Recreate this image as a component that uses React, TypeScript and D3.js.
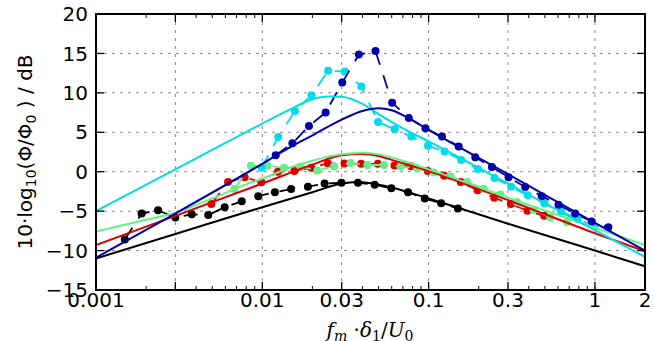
import { useEffect, useRef } from 'react'
import * as d3 from 'd3'

// ── chart data ────────────────────────────────────────────────────────
const X_TICKS = [0.001, 0.003, 0.01, 0.03, 0.1, 0.3, 1, 2]
const X_TICK_LABELS = ['0.001', '', '0.01', '0.03', '0.1', '0.3', '1', '2']
const X_MINOR = [0.002, 0.004, 0.005, 0.006, 0.007, 0.008, 0.009, 0.02, 0.04, 0.05, 0.06, 0.07, 0.08, 0.09, 0.2, 0.4, 0.5, 0.6, 0.7, 0.8, 0.9]
const X_GRID = [0.003, 0.01, 0.03, 0.1, 0.3, 1]
const Y_TICKS = [-15, -10, -5, 0, 5, 10, 15, 20]
const Y_GRID = [-10, -5, 0, 5, 10, 15]

const SERIES_COLORS = ['#000000', '#dd0000', '#66ee88', '#00dde8', '#0000aa']

// measured spectra (markers)
const blackF = [0.00149, 0.00188, 0.00236, 0.003, 0.00376, 0.00473, 0.00594, 0.00752, 0.00946, 0.0119, 0.0149, 0.0188, 0.0237, 0.0299, 0.0376, 0.0474, 0.0597, 0.0752, 0.0948, 0.119, 0.15]
const blackDb = [-8.6, -5.3, -4.9, -5.8, -5.4, -5.5, -4.5, -3.75, -3.1, -2.6, -2.2, -1.9, -1.5, -1.4, -1.4, -1.65, -2.1, -2.6, -3.4, -4.0, -4.65]
const redF = [0.00494, 0.00622, 0.00783, 0.00986, 0.0124, 0.0156, 0.0197, 0.0248, 0.0312, 0.0393, 0.0495, 0.0623, 0.0784, 0.0987, 0.124, 0.156, 0.197, 0.248, 0.312, 0.393, 0.495]
const redDb = [-4.1, -1.3, -0.7, -1.35, 0.0, 0.1, 0.5, 1.05, 1.05, 1.0, 1.0, 0.8, 0.7, 0.1, -0.5, -1.3, -2.35, -3.3, -4.1, -4.95, -5.6]
const greenF = [0.00679, 0.00854, 0.01075, 0.01354, 0.01704, 0.02145, 0.02701, 0.034, 0.0428, 0.0539, 0.0679, 0.0854, 0.1075, 0.1354, 0.1704, 0.2145, 0.2701, 0.34, 0.428, 0.539, 0.679]
const greenDb = [-2.2, 0.75, 0.75, 0.5, 0.65, 0.15, 0.7, 1.1, 0.85, 0.85, 0.65, 0.45, -0.1, -0.6, -1.3, -2.15, -2.9, -3.85, -4.85, -5.8, -6.4]
const cyanF = [0.0099, 0.01247, 0.0157, 0.01976, 0.02488, 0.03132, 0.03943, 0.04964, 0.0625, 0.0787, 0.0991, 0.1247, 0.157, 0.1977, 0.2489, 0.3133, 0.3944, 0.4966, 0.625, 0.787, 0.991]
const cyanDb = [0.5, 4.4, 7.7, 9.7, 12.8, 12.7, 10.8, 6.3, 5.4, 4.45, 3.3, 2.55, 1.5, 0.35, -0.8, -1.9, -3.0, -4.0, -5.0, -6.0, -6.9]
const navyF = [0.01204, 0.01516, 0.01908, 0.02402, 0.03024, 0.03807, 0.04793, 0.06034, 0.076, 0.0957, 0.1204, 0.1516, 0.1908, 0.2402, 0.3024, 0.3807, 0.4793, 0.6034, 0.76, 0.957, 1.204]
const navyDb = [2.1, 3.6, 5.8, 7.5, 11.3, 14.85, 15.3, 8.75, 6.8, 5.5, 4.45, 3.2, 1.85, 0.6, -0.7, -1.95, -3.1, -4.2, -5.3, -6.3, -7.05]

// model curves (solid lines)
const blackModelF = [0.001, 0.003, 0.01, 0.02, 0.03, 0.037, 0.045, 0.06, 0.1, 0.3, 1, 2]
const blackModelDb = [-11.0, -7.9, -4.5, -2.6, -1.5, -1.3, -1.45, -2.0, -3.4, -6.6, -10.0, -12.0]
const redModelF = [0.001, 0.003, 0.01, 0.02, 0.03, 0.04, 0.05, 0.06, 0.1, 0.3, 1, 2]
const redModelDb = [-9.3, -5.6, -1.5, 0.9, 2.1, 2.25, 2.0, 1.5, 0.1, -3.6, -7.8, -10.1]
const greenModelF = [0.001, 0.002, 0.003, 0.005, 0.008, 0.01, 0.015, 0.02, 0.03, 0.04, 0.05, 0.06, 0.1, 0.3, 1, 2]
const greenModelDb = [-7.6, -6.1, -5.2, -3.4, -1.6, -0.9, 0.6, 1.4, 2.2, 2.4, 2.2, 1.8, 0.3, -3.3, -7.1, -9.3]
const cyanModelF = [0.001, 0.003, 0.01, 0.015, 0.02, 0.025, 0.03, 0.04, 0.05, 0.07, 0.1, 0.3, 1, 2]
const cyanModelDb = [-5.0, 0.3, 6.1, 8.0, 9.2, 9.55, 9.5, 8.6, 7.3, 5.5, 3.85, -1.5, -7.4, -10.8]
const navyModelF = [0.001, 0.003, 0.01, 0.015, 0.02, 0.03, 0.04, 0.05, 0.06, 0.08, 0.1, 0.3, 1, 2]
const navyModelDb = [-10.9, -5.3, 1.0, 3.2, 4.6, 6.6, 7.7, 8.05, 7.8, 6.5, 5.3, -0.3, -6.5, -10.0]

const MEASURED = [
  [blackF, blackDb], [redF, redDb], [greenF, greenDb], [cyanF, cyanDb], [navyF, navyDb],
]
const MODELS = [
  [blackModelF, blackModelDb], [redModelF, redModelDb], [greenModelF, greenModelDb],
  [cyanModelF, cyanModelDb], [navyModelF, navyModelDb],
]

const W = 654, H = 341
const M = { left: 96, top: 14, right: 645, bottom: 290 }

export default function App() {
  const svgRef = useRef<SVGSVGElement>(null)

  useEffect(() => {
    const svg = d3.select(svgRef.current)
    svg.selectAll('*').remove()

    const x = d3.scaleLog().domain([0.001, 2]).range([M.left, M.right])
    const y = d3.scaleLinear().domain([-15, 20]).range([M.bottom, M.top])

    svg.append('rect').attr('width', W).attr('height', H).attr('fill', '#fff')

    const defs = svg.append('defs')
    defs.append('clipPath').attr('id', 'plot')
      .append('rect').attr('x', M.left).attr('y', M.top)
      .attr('width', M.right - M.left).attr('height', M.bottom - M.top)

    // grid
    const grid = svg.append('g').attr('stroke', '#888').attr('stroke-width', 1)
      .attr('stroke-dasharray', '3,5')
    X_GRID.forEach((v) => {
      grid.append('line').attr('x1', x(v)).attr('x2', x(v)).attr('y1', M.top).attr('y2', M.bottom)
    })
    Y_GRID.forEach((v) => {
      grid.append('line').attr('x1', M.left).attr('x2', M.right).attr('y1', y(v)).attr('y2', y(v))
    })

    const plot = svg.append('g').attr('clip-path', 'url(#plot)')
    const line = d3.line<[number, number]>()
      .x((d) => x(d[0])).y((d) => y(d[1]))

    // measured: dashed lines + dots
    MEASURED.forEach(([fs, dbs], i) => {
      const pts = fs.map((f, j) => [f, dbs[j]] as [number, number])
      plot.append('path').attr('d', line(pts)).attr('fill', 'none')
        .attr('stroke', SERIES_COLORS[i]).attr('stroke-width', 1.8)
        .attr('stroke-dasharray', '14,11')
      plot.selectAll(null).data(pts).enter().append('circle')
        .attr('cx', (d) => x(d[0])).attr('cy', (d) => y(d[1])).attr('r', 4)
        .attr('fill', SERIES_COLORS[i])
    })

    // model curves
    MODELS.forEach(([fs, dbs], i) => {
      const pts = fs.map((f, j) => [f, dbs[j]] as [number, number])
      plot.append('path').attr('d', line.curve(d3.curveMonotoneX)(pts)).attr('fill', 'none')
        .attr('stroke', SERIES_COLORS[i]).attr('stroke-width', 2)
    })

    // ticks (inward, all four sides)
    const ax = svg.append('g').attr('stroke', '#000')
    X_TICKS.forEach((v) => {
      ax.append('line').attr('x1', x(v)).attr('x2', x(v)).attr('y1', M.bottom).attr('y2', M.bottom - 8).attr('stroke-width', 1.3)
      ax.append('line').attr('x1', x(v)).attr('x2', x(v)).attr('y1', M.top).attr('y2', M.top + 8).attr('stroke-width', 1.3)
    })
    X_MINOR.forEach((v) => {
      ax.append('line').attr('x1', x(v)).attr('x2', x(v)).attr('y1', M.bottom).attr('y2', M.bottom - 4).attr('stroke-width', 1)
      ax.append('line').attr('x1', x(v)).attr('x2', x(v)).attr('y1', M.top).attr('y2', M.top + 4).attr('stroke-width', 1)
    })
    Y_TICKS.forEach((v) => {
      ax.append('line').attr('x1', M.left).attr('x2', M.left + 8).attr('y1', y(v)).attr('y2', y(v)).attr('stroke-width', 1.3)
      ax.append('line').attr('x1', M.right).attr('x2', M.right - 8).attr('y1', y(v)).attr('y2', y(v)).attr('stroke-width', 1.3)
    })

    svg.append('rect').attr('x', M.left).attr('y', M.top)
      .attr('width', M.right - M.left).attr('height', M.bottom - M.top)
      .attr('fill', 'none').attr('stroke', '#000').attr('stroke-width', 2)

    // tick labels
    const font = 'DejaVu Sans, sans-serif'
    X_TICKS.forEach((v, i) => {
      svg.append('text').attr('x', x(v)).attr('y', 307).attr('text-anchor', 'middle')
        .attr('font-family', font).attr('font-size', 20).text(X_TICK_LABELS[i])
    })
    Y_TICKS.forEach((v) => {
      svg.append('text').attr('x', 88).attr('y', y(v)).attr('dy', '0.36em').attr('text-anchor', 'end')
        .attr('font-family', font).attr('font-size', 20).text(v < 0 ? `\u2212${-v}` : `${v}`)
    })

    // y label
    const yl = svg.append('text').attr('transform', 'translate(32,152) rotate(-90)')
      .attr('text-anchor', 'middle').attr('font-family', font).attr('font-size', 20)
    yl.append('tspan').text('10·log')
    yl.append('tspan').attr('font-size', 14).attr('dy', 4).text('10')
    yl.append('tspan').attr('dy', -4).text('(Φ/Φ')
    yl.append('tspan').attr('font-size', 14).attr('dy', 4).text('0')
    yl.append('tspan').attr('dy', -4).text(' ) / dB')

    // x label
    const xl = svg.append('text').attr('x', 370).attr('y', 337).attr('text-anchor', 'middle')
      .attr('font-family', 'DejaVu Serif, serif').attr('font-size', 20)
    xl.append('tspan').attr('font-style', 'italic').text('f')
    xl.append('tspan').attr('font-style', 'italic').attr('font-size', 14).attr('dy', 4).text('m')
    xl.append('tspan').attr('dy', -4).text(' ·')
    xl.append('tspan').attr('font-style', 'italic').text('δ')
    xl.append('tspan').attr('font-size', 14).attr('dy', 4).text('1')
    xl.append('tspan').attr('dy', -4).text('/')
    xl.append('tspan').attr('font-style', 'italic').text('U')
    xl.append('tspan').attr('font-size', 14).attr('dy', 4).text('0')
  }, [])

  return (
    <div style={{ position: 'absolute', left: 0, top: 0 }}>
      <svg ref={svgRef} width={W} height={H} style={{ display: 'block' }} />
    </div>
  )
}
